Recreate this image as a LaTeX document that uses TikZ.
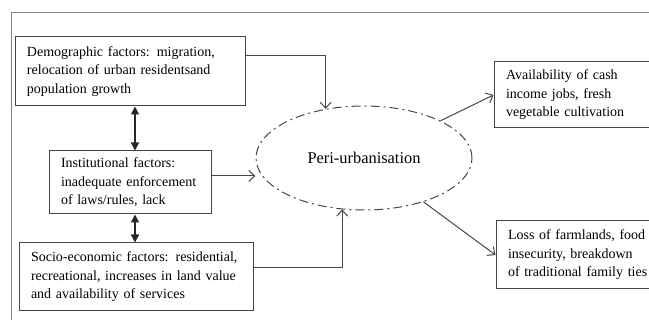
\documentclass[tikz,border=0pt]{standalone}
\usepackage{fontspec}
\setmainfont{Liberation Serif}
\usetikzlibrary{shapes.geometric, arrows.meta, positioning}
\definecolor{boxgray}{RGB}{70, 70, 70}
\definecolor{framegray}{RGB}{130, 130, 130}

\begin{document}
\begin{tikzpicture}[
  x=1pt, y=-1pt,
  factor/.style={rectangle, draw=boxgray, line width=1pt, align=left,
               inner xsep=12pt, text width=#1, font=\fontsize{14}{18.5}\selectfont},
  arrow/.style={-{Straight Barb[length=6pt, width=11pt]}, line width=1pt, color=boxgray},
  dblarrow/.style={{Triangle[length=8pt, width=8pt]}-{Triangle[length=8pt, width=8pt]},
               line width=1.6pt, color=black!85},
]
  \useasboundingbox (0,0) rectangle (649,320);
  % outer frame (cut off at the right and at the bottom)
  \draw[framegray, line width=0.8pt] (11,320) -- (11,12) -- (649,12);

  \node[factor=206pt, minimum height=69pt] (demo) at (130,71.5)
    {Demographic factors: migration,\\ relocation of urban residentsand\\ population growth};
  \node[factor=138pt, minimum height=63pt, below=44pt of demo] (inst)
    {Institutional factors:\\ inadequate enforcement\\ of laws/rules, lack};
  \node[factor=210pt, minimum height=68pt, below=28pt of inst, xshift=6pt] (socio)
    {Socio-economic factors: residential,\\ recreational, increases in land value\\ and availability of services};

  \node[ellipse, draw=boxgray, line width=1pt, dash pattern=on 9pt off 4pt on 2pt off 4pt,
        minimum width=216pt, minimum height=104pt, inner sep=0pt,
        font=\fontsize{16.4}{19}\selectfont] (peri) at (364,158) {Peri-urbanisation};

  % the two result boxes run past the right edge of the page
  \node[factor=180pt, minimum height=66pt] (cash) at (596,95)
    {Availability of cash\\ income jobs, fresh\\ vegetable cultivation};
  \node[factor=180pt, minimum height=68pt] (loss) at (598,255)
    {Loss of farmlands, food\\ insecurity, breakdown\\ of traditional family ties};

  \draw[dblarrow] ([xshift=5pt]demo.south) -- ([xshift=5pt]inst.north);
  \draw[dblarrow] ([xshift=5pt]inst.south) -- ([xshift=5pt]inst.south |- socio.north);

  \draw[arrow] ([yshift=15.5pt]demo.east) -| (peri.128);
  \draw[arrow] ([yshift=6.5pt]inst.east) -- ([yshift=6.5pt]inst.east -| peri.west);
  \draw[arrow] ([yshift=9pt]socio.east) -| (peri.247);

  \draw[arrow] (peri) -- (cash.west);
  \draw[arrow] (peri) -- (loss.west);
\end{tikzpicture}
\end{document}
